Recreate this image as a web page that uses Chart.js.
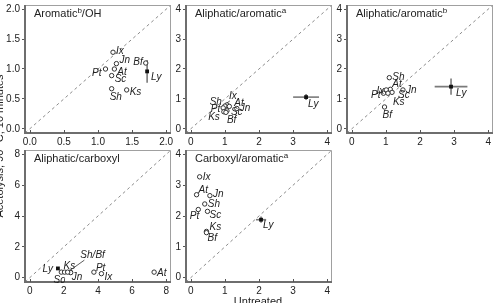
<!DOCTYPE html>
<html><head><meta charset="utf-8">
<script src="https://cdn.jsdelivr.net/npm/chart.js@4.4.0/dist/chart.umd.min.js"></script>
<style>
html,body{margin:0;padding:0;background:#fff;width:498px;height:303px;overflow:hidden;}
#wrap{position:relative;width:498px;height:303px;overflow:hidden;}
canvas{position:absolute;left:0;top:0;}
.ttl{position:absolute;font-family:"Liberation Sans",Arial,sans-serif;font-size:11px;color:#222;white-space:nowrap;text-align:center;}
</style></head><body>
<div id="wrap">
<canvas id="c1" width="498" height="303"></canvas>
<canvas id="c2" width="498" height="303"></canvas>
<canvas id="c3" width="498" height="303"></canvas>
<canvas id="c4" width="498" height="303"></canvas>
<canvas id="c5" width="498" height="303"></canvas>
<div class="ttl" style="left:-101px;top:139px;width:200px;height:14px;line-height:14px;transform:rotate(-90deg);">Acetolysis, 90 °C, 10 minutes</div>
<div class="ttl" style="left:208px;top:295px;width:100px;line-height:13px;">Untreated</div>
</div>
<script>
// ---------- data ----------
const tickVals2 = [0, 0.5, 1, 1.5, 2];
const tickLabels2 = ['0.0', '0.5', '1.0', '1.5', '2.0'];
const tickVals4 = [0, 1, 2, 3, 4];
const tickLabels4 = ['0', '1', '2', '3', '4'];
const tickVals8 = [0, 2, 4, 6, 8];
const tickLabels8 = ['0', '2', '4', '6', '8'];

// Panel 1: Aromatic^b/OH
const p1Names = ['Ix', 'Jn', 'At', 'Pt', 'Sc', 'Sh', 'Ks', 'Bf'];
const p1X = [1.22, 1.27, 1.24, 1.11, 1.20, 1.20, 1.42, 1.70];
const p1Y = [1.28, 1.09, 1.00, 1.00, 0.89, 0.67, 0.65, 1.10];
// Panel 2: Aliphatic/aromatic^a
const p2Names = ['Ix', 'Sh', 'At', 'Jn', 'Pt', 'Sc', 'Ks', 'Bf'];
const p2X = [1.06, 1.00, 1.13, 1.35, 0.95, 1.06, 0.97, 1.03];
const p2Y = [0.80, 0.76, 0.75, 0.68, 0.70, 0.60, 0.57, 0.55];
// Panel 3: Aliphatic/aromatic^b
const p3Names = ['Sh', 'At', 'Ix', 'Jn', 'Pt', 'Sc', 'Ks', 'Bf'];
const p3X = [1.10, 1.13, 1.01, 1.50, 0.93, 1.18, 1.06, 0.96];
const p3Y = [1.71, 1.32, 1.30, 1.30, 1.19, 1.22, 1.19, 0.73];
// Panel 4: Aliphatic/carboxyl
const p4Names = ['Sc', 'Ks', 'Sh', 'Bf', 'Jn', 'Pt', 'Ix', 'At'];
const p4X = [1.85, 2.04, 2.38, 2.40, 2.22, 3.76, 4.20, 7.29];
const p4Y = [0.36, 0.36, 0.36, 0.33, 0.36, 0.36, 0.26, 0.36];
// Panel 5: Carboxyl/aromatic^a
const p5Names = ['Ix', 'At', 'Jn', 'Sh', 'Pt', 'Sc', 'Ks', 'Bf'];
const p5X = [0.26, 0.17, 0.56, 0.41, 0.22, 0.49, 0.46, 0.46];
const p5Y = [3.27, 2.69, 2.66, 2.39, 2.21, 2.15, 1.50, 1.46];

// Ly (filled square, mean with error bars), one per panel
const lyX = [1.72, 3.38, 2.91, 1.65, 2.06];
const lyY = [0.96, 1.06, 1.41, 0.60, 1.88];
const lyXErr = [0, 0.38, 0.48, 0, 0.15];
const lyYErr = [0.19, 0.10, 0.27, 0, 0.10];

// ---------- label placement (styles, pixels) ----------
const p1Lab = [[3,-1,'left'],[3,-3,'left'],[3,3,'left'],[-4,4,'right'],[3,4,'left'],[-2,8,'left'],[3,2,'left'],[-3,-1,'right']];
const p2Lab = [[2,-9,'left'],[-3,-4,'right'],[5,-3,'left'],[3,0,'left'],[-3,1,'right'],[4,1,'left'],[-4,5,'right'],[1,8,'left']];
const p3Lab = [[3,0,'left'],[2,-5,'left'],[-2,1,'right'],[3,0,'left'],[-3,2,'right'],[6,3,'left'],[5,9,'left'],[-2,8,'left']];
const p4Lab = [[-2,8,'center'],[-1,-6,'left'],[10,-17,'left'],null,[4,5,'left'],[2,-4,'left'],[3,4,'left'],[3,1,'left']];
const p5Lab = [[3,0,'left'],[2,-5,'left'],[3,-1,'left'],[3,0,'left'],[1,7,'right'],[2,4,'left'],[3,-4,'left'],[1,6,'left']];
const lyLab = [[4,6,'left'],[2,7,'left'],[5,7,'left'],[-5,1,'right'],[2,6,'left']];
const p4LabelText = ['Sc','Ks','Sh/Bf','','Jn','Pt','Ix','At'];

const FONT = '"Liberation Sans", Arial, sans-serif';
Chart.defaults.font.family = FONT;

function makePanel(id, idx, cfg) {
  const YW = 22, XH = 14;
  const a = cfg.area;
  const plugin = {
    id: 'panel' + idx,
    beforeDatasetsDraw(chart) {
      const ctx = chart.ctx, xs = chart.scales.x, ys = chart.scales.y;
      const px = xs.getPixelForValue(lyX[idx]), py = ys.getPixelForValue(lyY[idx]);
      ctx.save();
      ctx.strokeStyle = '#7a7a7a'; ctx.lineWidth = 1.6;
      if (lyYErr[idx] > 0) {
        ctx.beginPath();
        ctx.moveTo(px, ys.getPixelForValue(lyY[idx] - lyYErr[idx]));
        ctx.lineTo(px, ys.getPixelForValue(lyY[idx] + lyYErr[idx]));
        ctx.stroke();
      }
      if (lyXErr[idx] > 0) {
        ctx.beginPath();
        ctx.moveTo(xs.getPixelForValue(lyX[idx] - lyXErr[idx]), py);
        ctx.lineTo(xs.getPixelForValue(lyX[idx] + lyXErr[idx]), py);
        ctx.stroke();
      }
      ctx.restore();
    },
    afterDraw(chart) {
      const ctx = chart.ctx, xs = chart.scales.x, ys = chart.scales.y, ca = chart.chartArea;
      ctx.save();
      // frame
      ctx.strokeStyle = '#a0a0a0'; ctx.lineWidth = 1;
      ctx.beginPath();
      ctx.moveTo(ca.left, ca.top + 0.5); ctx.lineTo(ca.right - 0.5, ca.top + 0.5); ctx.lineTo(ca.right - 0.5, ca.bottom);
      ctx.stroke();
      ctx.strokeStyle = '#6e6e6e'; ctx.lineWidth = 2;
      ctx.beginPath();
      ctx.moveTo(ca.left, ca.top); ctx.lineTo(ca.left, ca.bottom); ctx.lineTo(ca.right, ca.bottom);
      ctx.stroke();
      // inward x ticks
      ctx.strokeStyle = '#555'; ctx.lineWidth = 1;
      cfg.ticks.forEach(v => {
        const x = Math.round(xs.getPixelForValue(v)) + 0.5;
        ctx.beginPath(); ctx.moveTo(x, ca.bottom); ctx.lineTo(x, ca.bottom - 3); ctx.stroke();
      });
      // point labels
      ctx.fillStyle = '#222';
      ctx.font = 'italic 10px ' + FONT;
      ctx.textBaseline = 'middle';
      cfg.x.forEach((v, i) => {
        const L = cfg.lab[i];
        if (!L) return;
        const text = cfg.text ? cfg.text[i] : cfg.names[i];
        if (!text) return;
        const px = xs.getPixelForValue(v), py = ys.getPixelForValue(cfg.y[i]);
        ctx.textAlign = L[2];
        ctx.fillText(text, px + L[0], py + L[1]);
        if (cfg.leader && cfg.leader[i]) {
          ctx.strokeStyle = '#333'; ctx.lineWidth = 0.8;
          ctx.beginPath();
          ctx.moveTo(px, py - 2);
          ctx.lineTo(px + cfg.leader[i][0], py + cfg.leader[i][1]);
          ctx.stroke();
        }
      });
      const LL = lyLab[idx];
      ctx.textAlign = LL[2];
      ctx.fillText('Ly', xs.getPixelForValue(lyX[idx]) + LL[0], ys.getPixelForValue(lyY[idx]) + LL[1]);
      // panel title
      ctx.font = '11px ' + FONT; ctx.textAlign = 'left'; ctx.textBaseline = 'alphabetic';
      let tx = ca.left + 9; const ty = ca.top + 12;
      ctx.fillText(cfg.title[0], tx, ty); tx += ctx.measureText(cfg.title[0]).width;
      if (cfg.title[1]) {
        ctx.font = '8px ' + FONT;
        ctx.fillText(cfg.title[1], tx, ty - 4); tx += ctx.measureText(cfg.title[1]).width;
        ctx.font = '11px ' + FONT;
      }
      if (cfg.title[2]) ctx.fillText(cfg.title[2], tx, ty);
      ctx.restore();
    }
  };
  const pad = cfg.max * 0.035;
  const lo = -pad, hi = cfg.max + pad;
  const axisCommon = {
    type: 'linear', min: lo, max: hi,
    afterBuildTicks: s => { s.ticks = cfg.ticks.map(v => ({ value: v })); },
    border: { display: false },
  };
  new Chart(document.getElementById(id), {
    type: 'scatter',
    data: {
      datasets: [
        { data: [{ x: lo, y: lo }, { x: hi, y: hi }], showLine: true, borderColor: '#8c8c8c', borderWidth: 1,
          borderDash: [3, 3], pointRadius: 0, order: 3 },
        { data: cfg.x.map((v, i) => ({ x: v, y: cfg.y[i] })), pointStyle: 'circle', pointRadius: 2.2,
          borderColor: '#333', borderWidth: 1, backgroundColor: '#fff', order: 1 },
        { data: [{ x: lyX[idx], y: lyY[idx] }], pointStyle: 'rect', pointRadius: 2.7,
          backgroundColor: '#111', borderColor: '#111', borderWidth: 0, order: 0 }
      ]
    },
    options: {
      responsive: false, animation: false, devicePixelRatio: 1,
      layout: { padding: { left: a.l - YW, right: 498 - a.r, top: a.t, bottom: 303 - a.b - XH } },
      plugins: { legend: { display: false }, tooltip: { enabled: false } },
      scales: {
        x: Object.assign({}, axisCommon, {
          afterFit: s => { s.height = XH; s.paddingLeft = 0; s.paddingRight = 0; },
          grid: { display: false, drawTicks: false },
          ticks: { callback: (v, i) => cfg.tickLabels[i], autoSkip: false, maxRotation: 0, padding: 3,
                   color: '#222', font: { size: 10 } }
        }),
        y: Object.assign({}, axisCommon, {
          afterFit: s => { s.width = YW; s.paddingTop = 0; s.paddingBottom = 0; },
          grid: { display: true, drawOnChartArea: false, drawTicks: true, tickLength: 3, color: '#555' },
          ticks: { callback: (v, i) => cfg.tickLabels[i], autoSkip: false, padding: 2,
                   color: '#222', font: { size: 10 } }
        })
      }
    },
    plugins: [plugin]
  });
}

makePanel('c1', 0, { area: { l: 25, r: 171, t: 3, b: 133 }, max: 2, ticks: tickVals2, tickLabels: tickLabels2,
  names: p1Names, x: p1X, y: p1Y, lab: p1Lab, title: ['Aromatic', 'b', '/OH'] });
makePanel('c2', 1, { area: { l: 186, r: 332, t: 3, b: 133 }, max: 4, ticks: tickVals4, tickLabels: tickLabels4,
  names: p2Names, x: p2X, y: p2Y, lab: p2Lab, leader: [[3, -4], null, null, null, null, null, null, null],
  title: ['Aliphatic/aromatic', 'a', ''] });
makePanel('c3', 2, { area: { l: 347, r: 494, t: 3, b: 133 }, max: 4, ticks: tickVals4, tickLabels: tickLabels4,
  names: p3Names, x: p3X, y: p3Y, lab: p3Lab, title: ['Aliphatic/aromatic', 'b', ''] });
makePanel('c4', 3, { area: { l: 25, r: 171, t: 150, b: 282 }, max: 8, ticks: tickVals8, tickLabels: tickLabels8,
  names: p4Names, text: p4LabelText, x: p4X, y: p4Y, lab: p4Lab,
  leader: [null, null, [14, -12], null, null, null, null, null], title: ['Aliphatic/carboxyl', '', ''] });
makePanel('c5', 4, { area: { l: 186, r: 332, t: 150, b: 282 }, max: 4, ticks: tickVals4, tickLabels: tickLabels4,
  names: p5Names, x: p5X, y: p5Y, lab: p5Lab, title: ['Carboxyl/aromatic', 'a', ''] });
</script>
</body></html>
